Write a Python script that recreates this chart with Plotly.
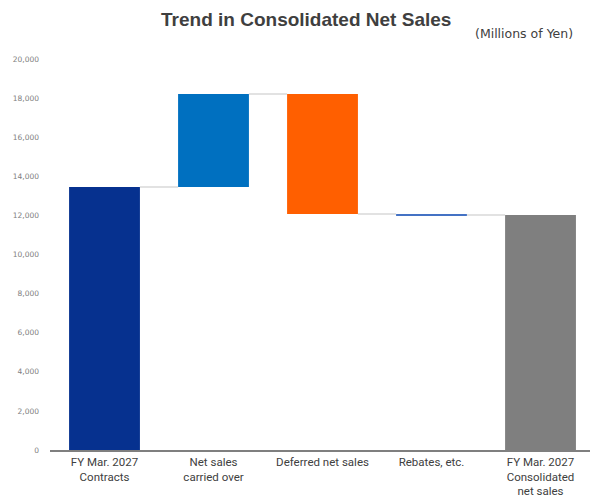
import plotly.graph_objects as go

categories = ["FY Mar. 2027<br>Contracts", "Net sales<br>carried over", "Deferred net sales",
              "Rebates, etc.", "FY Mar. 2027<br>Consolidated<br>net sales"]
values = [13450, 4760, -6140, -50, 12020]
kinds = ["total", "relative", "relative", "relative", "total"]
colors = ["#06318F", "#0070C0", "#FF5F00", "#4472C4", "#7F7F7F"]
yticks = list(range(0, 20001, 2000))

# compute bases from data
bases, heights, levels = [], [], []
level = 0
for v, k in zip(values, kinds):
    if k == "total":
        bases.append(0)
        heights.append(v)
        level = v
    else:
        start = level
        level = level + v
        bases.append(min(start, level))
        heights.append(abs(v))
    levels.append(level)

xs = list(range(len(categories)))
bw = 0.65

fig = go.Figure()
# connectors
cx, cy = [], []
for i in range(len(xs) - 1):
    cx += [xs[i] + bw / 2, xs[i + 1] - bw / 2, None]
    cy += [levels[i], levels[i], None]
fig.add_trace(go.Scatter(x=cx, y=cy, mode="lines", line=dict(color="#D9D9D9", width=1.5),
                         hoverinfo="skip", showlegend=False))
fig.add_trace(go.Bar(x=xs, y=heights, base=bases, width=bw, marker=dict(color=colors, line=dict(width=0)),
                     showlegend=False))

fig.update_layout(
    width=590, height=501,
    margin=dict(l=50, r=0, t=59, b=51),
    plot_bgcolor="white", paper_bgcolor="white",
    title=dict(text="<b>Trend in Consolidated Net Sales</b>", x=0.519, xanchor="center", y=0.962, yanchor="middle",
               font=dict(family="Liberation Sans", size=19, color="#3F3F3F")),
    font=dict(family="Roboto"),
    annotations=[dict(text="(Millions of Yen)", xref="paper", yref="paper", x=0.973, y=1.0, yshift=16,
                      xanchor="right", yanchor="bottom", showarrow=False,
                      font=dict(family="DejaVu Sans", size=12.5, color="#404040"))],
)
fig.update_xaxes(range=[-0.5, 4.454], tickvals=xs, ticktext=categories, showgrid=False,
                 showline=True, linecolor="#7F7F7F", linewidth=1.5,
                 tickfont=dict(size=11.5, color="#404040"), ticks="", zeroline=False)
fig.update_yaxes(range=[0, 20000], tickvals=yticks, tickformat=",", showgrid=False, zeroline=False,
                 tickfont=dict(family="DejaVu Sans", size=7.5, color="#808080"), ticklabelstandoff=10)

fig.write_html("out.html")
